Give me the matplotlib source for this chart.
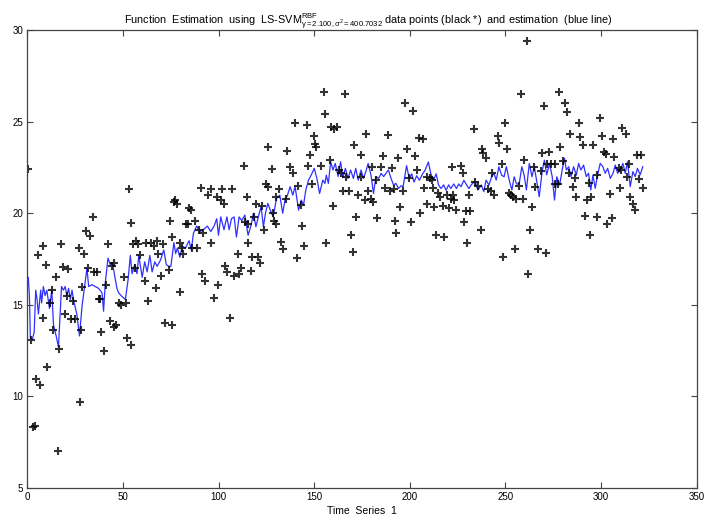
import matplotlib
matplotlib.use('Agg')
import matplotlib.pyplot as plt

plt.rcParams['font.family'] = ['Liberation Sans', 'DejaVu Sans']
plt.rcParams['mathtext.fontset'] = 'custom'
plt.rcParams['mathtext.rm'] = 'Liberation Sans'
plt.rcParams['mathtext.it'] = 'Liberation Sans'

# ---- data points (black +) ----
pts_t = [0.4, 1.7, 3.0, 4.0, 4.5, 5.7, 6.6, 8.0, 8.3, 9.7,
         10.4, 11.8, 12.7, 13.6, 15.0, 15.8, 16.7, 17.6, 18.8, 19.7,
         20.6, 21.4, 22.8, 23.7, 25.0, 27.2, 27.6, 28.1, 28.6, 29.8,
         30.5, 31.6, 32.5, 34.2, 35.0, 36.3, 37.2, 38.0, 38.6, 39.8,
         41.1, 42.1, 43.0, 44.0, 45.0, 45.5, 46.5, 48.0, 49.0, 50.3,
         51.5, 52.0, 53.0, 54.0, 54.2, 55.0, 56.5, 57.0, 58.0, 59.1,
         61.3, 62.0, 62.9, 64.5, 66.0, 67.0, 67.5, 68.4, 70.1, 71.0,
         72.0, 74.0, 74.3, 75.4, 75.8, 76.6, 77.0, 78.0, 79.6, 80.0,
         80.8, 81.5, 83.0, 84.0, 84.5, 85.5, 86.0, 87.5, 88.5, 89.6,
         90.6, 91.5, 92.0, 93.0, 94.4, 95.9, 96.2, 97.5, 99.0, 99.4,
         101.1, 101.6, 102.8, 103.3, 104.5, 105.8, 107.2, 108.0, 110.0, 110.5,
         111.5, 113.5, 113.7, 114.8, 115.1, 115.5, 116.9, 117.7, 118.6, 119.5,
         120.5, 121.6, 122.6, 123.9, 124.7, 125.6, 126.0, 128.0, 128.6, 129.2,
         129.8, 130.0, 131.7, 132.6, 133.8, 135.0, 135.8, 137.5, 139.0, 140.0,
         140.9, 141.4, 143.0, 143.6, 144.9, 146.0, 146.6, 147.8, 149.0, 150.0,
         150.5, 151.0, 153.6, 154.9, 155.4, 156.2, 158.4, 159.0, 159.8, 160.5,
         162.0, 163.0, 164.0, 165.0, 166.2, 166.8, 168.0, 169.4, 170.3, 171.0,
         172.0, 173.0, 174.3, 174.6, 176.5, 177.3, 178.2, 179.5, 180.0, 181.0,
         182.5, 183.0, 185.0, 186.0, 186.8, 188.6, 189.5, 190.5, 191.8, 192.5,
         193.0, 194.0, 194.8, 196.5, 197.5, 198.3, 199.7, 200.4, 201.5, 202.6,
         203.9, 205.0, 205.3, 207.0, 207.5, 208.8, 209.2, 210.5, 211.5, 212.2,
         212.6, 213.5, 215.0, 216.0, 217.5, 217.9, 219.5, 220.5, 221.5, 222.0,
         222.5, 223.0, 224.0, 227.0, 228.0, 228.4, 229.3, 229.8, 231.0, 231.5,
         233.6, 234.0, 235.5, 237.3, 238.0, 238.5, 239.8, 240.8, 242.5, 243.0,
         244.3, 246.0, 246.7, 248.2, 249.0, 250.0, 250.8, 251.7, 252.8, 254.0,
         254.8, 255.5, 257.0, 258.3, 259.0, 260.0, 261.3, 261.8, 263.0, 264.0,
         264.8, 265.7, 267.0, 268.8, 269.0, 270.0, 271.3, 271.8, 273.0, 274.0,
         275.8, 276.0, 277.6, 278.3, 278.8, 280.2, 281.0, 282.3, 283.2, 284.0,
         285.5, 286.6, 287.0, 288.4, 289.0, 290.7, 291.4, 292.5, 293.7, 294.2,
         295.0, 296.0, 297.7, 298.0, 299.3, 300.7, 301.6, 302.8, 303.3, 304.7,
         305.6, 306.5, 307.0, 309.5, 309.8, 310.3, 311.0, 313.0, 313.8, 314.7,
         315.4, 316.5, 318.0, 318.7, 320.0, 320.8, 322.2]
pts_y = [22.4, 13.1, 8.35, 8.4, 10.95, 17.7, 10.6, 18.2, 14.3, 17.2,
         11.6, 15.1, 15.8, 13.6, 16.5, 7.0, 12.6, 18.3, 17.05, 14.5,
         15.5, 16.95, 14.2, 15.2, 14.2, 18.1, 9.7, 13.6, 16.0, 17.8,
         19.05, 17.0, 18.75, 19.8, 16.8, 16.8, 15.3, 15.3, 13.5, 12.5,
         16.1, 18.3, 14.1, 17.1, 17.3, 13.8, 13.9, 15.1, 15.0, 16.5,
         15.1, 13.2, 21.3, 12.8, 19.45, 18.3, 17.0, 18.5, 18.3, 17.7,
         16.3, 18.4, 15.2, 18.4, 18.2, 15.9, 18.5, 17.8, 16.6, 18.3,
         14.0, 16.9, 19.55, 18.7, 13.9, 20.6, 20.7, 20.5, 15.7, 18.4,
         18.1, 17.8, 19.4, 19.4, 20.3, 20.2, 18.1, 19.6, 18.1, 19.1,
         21.4, 16.7, 18.9, 16.3, 21.0, 18.4, 21.3, 15.4, 20.9, 16.1,
         20.7, 21.3, 20.5, 17.1, 16.8, 14.3, 21.3, 16.6, 17.8, 16.7,
         17.0, 22.6, 19.5, 20.9, 19.4, 18.35, 16.85, 17.6, 19.8, 20.5,
         17.6, 17.3, 20.4, 19.1, 21.6, 23.6, 21.45, 22.4, 20.0, 19.6,
         19.4, 20.9, 21.3, 18.45, 18.05, 20.8, 23.4, 22.5, 22.2, 24.9,
         17.55, 21.5, 20.45, 19.3, 18.2, 24.8, 22.6, 23.2, 21.6, 24.2,
         23.8, 23.6, 22.6, 26.6, 25.4, 18.4, 22.9, 24.7, 20.4, 24.6,
         24.7, 22.35, 22.2, 21.2, 26.5, 22.0, 21.2, 18.8, 17.9, 23.7,
         19.8, 21.0, 23.2, 22.0, 20.7, 24.3, 21.2, 20.8, 22.5, 20.6,
         21.8, 19.75, 22.5, 23.1, 21.4, 24.25, 21.2, 22.45, 21.3, 19.6,
         18.9, 23.0, 20.35, 21.2, 26.0, 23.5, 21.9, 19.5, 25.6, 23.1,
         22.35, 24.1, 20.0, 24.05, 21.4, 22.0, 20.5, 21.9, 21.8, 21.4,
         20.35, 18.8, 21.1, 20.9, 20.4, 18.7, 21.0, 20.3, 20.8, 22.5,
         21.0, 20.7, 20.2, 22.6, 22.2, 19.5, 20.1, 18.4, 21.0, 20.1,
         24.6, 21.7, 21.5, 19.1, 23.5, 23.3, 23.0, 21.3, 21.2, 22.2,
         21.0, 24.2, 23.85, 22.7, 17.6, 24.9, 23.5, 21.1, 21.0, 20.9,
         18.05, 20.8, 21.5, 26.5, 20.8, 22.9, 29.4, 16.7, 19.1, 20.35,
         22.5, 21.45, 18.05, 22.3, 23.3, 25.85, 17.85, 22.7, 23.35, 22.7,
         21.6, 22.7, 21.6, 26.6, 23.6, 22.85, 26.0, 25.5, 22.2, 24.3,
         21.45, 21.95, 20.9, 24.9, 24.15, 23.7, 19.85, 20.7, 21.65, 18.8,
         20.9, 23.7, 19.8, 22.1, 25.2, 24.2, 23.35, 23.25, 19.4, 21.05,
         19.75, 24.05, 23.05, 22.45, 21.4, 22.35, 24.65, 24.3, 22.0, 22.7,
         20.9, 20.5, 20.2, 23.2, 21.85, 23.2, 21.4]

# ---- LS-SVM estimation (blue line) ----
est_t = [0.4, 1.0, 1.5, 2.5, 3.5, 4.3, 5.0, 5.7, 6.9, 7.4,
         8.3, 9.2, 10.1, 11.5, 12.7, 13.6, 15.0, 16.2, 17.1, 17.8,
         18.8, 19.7, 20.6, 21.5, 22.4, 23.3, 24.2, 25.8, 27.2, 28.5,
         30.2, 31.1, 32.0, 33.7, 35.5, 37.2, 39.0, 39.8, 40.7, 42.1,
         43.3, 44.2, 45.1, 46.0, 46.8, 47.7, 49.5, 51.2, 52.6, 53.8,
         54.7, 56.1, 57.3, 58.2, 60.0, 61.3, 62.6, 64.0, 65.2, 66.6,
         67.8, 69.6, 71.3, 72.6, 73.9, 75.0, 76.6, 77.5, 78.4, 79.7,
         81.0, 82.7, 84.5, 85.7, 86.8, 88.5, 90.2, 92.0, 94.1, 95.9,
         97.6, 99.0, 99.9, 101.1, 102.8, 104.3, 105.5, 106.7, 108.1, 109.3,
         110.7, 112.1, 113.7, 115.4, 117.0, 118.2, 119.5, 121.0, 122.2, 123.4,
         124.5, 125.7, 127.0, 128.5, 130.3, 132.0, 133.5, 134.7, 136.0, 137.4,
         138.8, 140.0, 141.8, 143.2, 144.4, 145.6, 147.0, 148.4, 150.0, 151.4,
         152.8, 154.5, 155.6, 156.3, 157.4, 158.6, 159.8, 161.0, 162.5, 163.8,
         165.0, 166.3, 167.7, 169.0, 170.5, 171.7, 173.0, 174.5, 175.7, 177.0,
         178.2, 179.7, 181.0, 182.3, 183.7, 185.0, 186.3, 187.5, 188.8, 190.2,
         191.5, 192.7, 194.1, 195.5, 196.5, 198.3, 199.7, 201.0, 202.2, 203.6,
         205.0, 206.7, 208.0, 209.7, 211.0, 212.4, 213.8, 215.0, 216.3, 217.7,
         219.0, 220.3, 221.5, 223.0, 224.4, 225.6, 226.8, 228.3, 229.7, 230.9,
         232.1, 233.5, 234.2, 235.6, 237.4, 238.7, 239.9, 241.4, 242.8, 244.0,
         245.2, 246.6, 248.0, 249.3, 250.5, 252.0, 253.4, 254.6, 255.8, 257.2,
         258.6, 259.8, 261.0, 262.5, 263.9, 265.1, 266.3, 267.7, 269.2, 270.4,
         271.6, 273.1, 274.5, 275.7, 276.9, 278.4, 279.7, 280.9, 281.9, 283.1,
         284.3, 285.7, 287.1, 288.3, 289.5, 290.9, 292.3, 293.5, 294.7, 295.8,
         297.0, 298.2, 299.6, 301.0, 302.2, 303.5, 304.9, 306.3, 307.5, 308.7,
         310.1, 311.5, 312.7, 313.9, 315.3, 316.7, 317.9, 319.1, 320.5, 321.9]
est_y = [16.5, 15.5, 13.2, 13.1, 13.5, 15.8, 15.3, 14.5, 15.8, 15.1,
         16.0, 15.5, 15.8, 14.8, 15.8, 13.9, 13.3, 12.7, 14.5, 16.0,
         15.8, 16.0, 15.5, 15.9, 15.3, 15.8, 15.2, 14.5, 13.3, 14.9,
         16.3, 17.0, 16.0, 16.1, 16.0, 15.9, 15.65, 14.65, 16.2, 17.55,
         17.2, 17.3, 16.9, 16.35, 15.9, 15.65, 15.45, 15.3, 16.35, 17.7,
         16.7, 17.2, 16.7, 17.7, 16.5, 17.35, 16.8, 17.7, 16.8, 17.35,
         17.1, 17.45, 18.0, 17.2, 17.1, 17.1, 18.4, 17.8, 18.1, 17.6,
         18.2, 18.1, 18.5, 18.0, 18.9, 19.3, 19.0, 19.1, 19.3, 19.0,
         19.3, 19.7, 18.8, 19.8, 19.1, 19.8, 19.1, 19.7, 19.8, 18.7,
         19.8, 19.6, 19.9, 18.8, 19.36, 20.0, 19.26, 19.9, 20.36, 19.26,
         20.0, 20.54, 20.17, 19.81, 20.81, 20.99, 20.0, 20.72, 20.99, 21.45,
         20.99, 21.45, 20.17, 20.72, 20.45, 21.27, 21.81, 22.08, 22.45, 21.9,
         21.08, 21.81, 21.63, 22.08, 21.63, 22.81, 22.36, 22.72, 22.0, 22.81,
         21.95, 22.45, 21.9, 22.36, 21.9, 22.45, 21.81, 22.36, 21.9, 22.27,
         22.72, 22.08, 21.08, 22.0, 21.9, 22.18, 22.0, 22.18, 22.36, 21.9,
         21.54, 21.63, 21.36, 21.5, 21.45, 22.6, 21.9, 22.15, 21.7, 22.05,
         21.8, 22.15, 22.35, 22.8, 22.15, 21.8, 22.15, 21.55, 21.35, 21.55,
         21.25, 21.55, 21.35, 21.6, 21.35, 21.6, 21.45, 21.8, 21.55, 21.35,
         21.55, 21.7, 21.72, 21.27, 21.54, 21.18, 21.81, 21.54, 21.99, 22.18,
         21.81, 22.54, 22.08, 21.99, 22.54, 21.81, 21.27, 21.99, 21.6, 21.6,
         22.54, 22.08, 21.27, 22.72, 21.99, 22.54, 21.81, 20.9, 22.27, 22.9,
         22.1, 22.72, 21.99, 20.72, 21.99, 21.54, 22.36, 23.0, 22.36, 22.54,
         22.0, 22.54, 22.08, 22.72, 22.36, 22.63, 22.0, 22.18, 21.27, 22.08,
         21.36, 22.08, 22.72, 22.54, 22.18, 22.45, 21.9, 22.18, 22.63, 22.18,
         22.36, 22.72, 22.18, 22.81, 21.45, 22.27, 22.0, 22.45, 22.1, 22.54]

fig = plt.figure(figsize=(7.05, 5.21), dpi=100)
ax = fig.add_axes([0.039, 0.0633, 0.949, 0.879])

ax.plot(est_t, est_y, color='#3030ff', lw=0.9)
ax.plot(pts_t, pts_y, '+', color='black', ms=5.5, mew=1.5, alpha=0.8)

ax.set_xlim(0, 350)
ax.set_ylim(5, 30)
ax.set_xticks(range(0, 351, 50))
ax.set_yticks(range(5, 31, 5))
ax.tick_params(direction='in', top=True, right=True, labelsize=7,
               length=4, width=0.8, color='#444444', pad=3)
for s in ax.spines.values():
    s.set_color('#444444')
    s.set_linewidth(0.9)

ax.set_title('Function  Estimation  using  LS-SVM'
             r'$^{\mathrm{RBF}}_{\gamma=2.100,\sigma^2=400.7032}$'
             ' data points (black *)  and estimation  (blue line)',
             fontsize=7.8, pad=4, x=0.51)
ax.set_xlabel('Time  Series  1', fontsize=7.5, labelpad=3)

fig.savefig('out.png', dpi=100)
